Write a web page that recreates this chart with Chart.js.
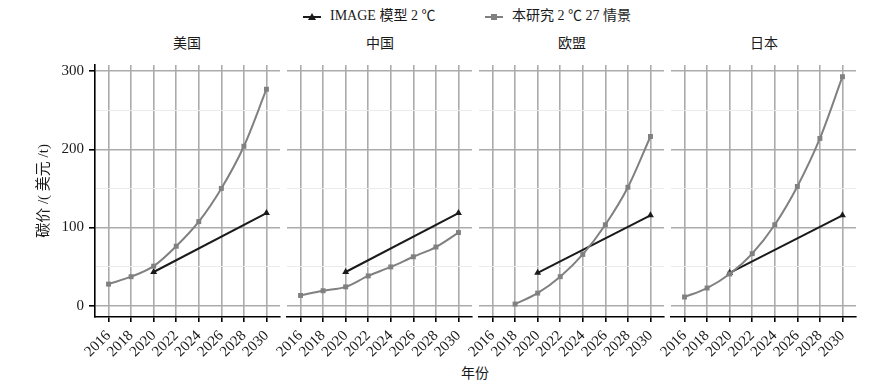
<!DOCTYPE html>
<html>
<head>
<meta charset="utf-8">
<script src="https://cdn.jsdelivr.net/npm/chart.js@4.4.1/dist/chart.umd.min.js"></script>
<style>
  html, body { margin: 0; padding: 0; background: #fff; }
  body { width: 892px; height: 386px; position: relative; overflow: hidden;
         font-family: "Liberation Serif", "Noto Sans CJK SC", serif; color: #1a1a1a; }
  canvas { position: absolute; }
  .txt { position: absolute; font-size: 14px; white-space: nowrap; line-height: 1; }
  .strip { transform: translateX(-50%); top: 37px; }
  .legend { position: absolute; top: 9px; font-size: 14px; line-height: 1; white-space: nowrap; }
  .legend svg { vertical-align: middle; margin-right: 8px; }
</style>
</head>
<body>

<div class="legend" style="left:302px">
  <svg width="20" height="10"><line x1="1" y1="5" x2="19" y2="5" stroke="#1a1a1a" stroke-width="2"/><polygon points="10,1 14,8 6,8" fill="#1a1a1a"/></svg>IMAGE 模型 2 ℃
</div>
<div class="legend" style="left:484px">
  <svg width="20" height="10"><line x1="1" y1="5" x2="19" y2="5" stroke="#808080" stroke-width="2"/><rect x="7" y="2" width="6" height="6" fill="#808080"/></svg>本研究 2 ℃ 27 情景
</div>

<div class="txt strip" style="left:187px">美国</div>
<div class="txt strip" style="left:380px">中国</div>
<div class="txt strip" style="left:572px">欧盟</div>
<div class="txt strip" style="left:764px">日本</div>
<div class="txt" style="left:461px; top:367px">年份</div>

<canvas id="c1" width="255" height="320" style="left:35px; top:50px"></canvas>
<canvas id="c2" width="225" height="320" style="left:257px; top:50px"></canvas>
<canvas id="c3" width="225" height="320" style="left:449px; top:50px"></canvas>
<canvas id="c4" width="225" height="320" style="left:641px; top:50px"></canvas>

<script>
// 年份與刻度
const years = [2016, 2018, 2020, 2022, 2024, 2026, 2028, 2030];
const yTicks = [0, 50, 100, 150, 200, 250, 300];

// 本研究 2℃ 27 情景
const usStudy = [27.5, 37, 50.5, 76, 107.5, 150, 204, 277];
const cnStudy = [13, 19, 24, 38, 49.5, 62.5, 75, 93.5];
const euStudy = [null, 2, 16, 37, 65.5, 103.5, 151.5, 216.5];
const jpStudy = [11, 22.5, 40.5, 66.5, 103.5, 152.5, 214, 293];

// IMAGE 模型 2℃
const imageYears = [2020, 2030];
const usImage = [43, 118.5];
const cnImage = [43, 118.5];
const euImage = [42, 115.5];
const jpImage = [42, 115.5];

const serif = '"Liberation Serif", "Noto Sans CJK SC", serif';

function toPoints(xs, ys) {
    return xs.map((x, i) => ({ x: x, y: ys[i] })).filter(p => p.y !== null);
}

function makePanel(id, study, image, first) {
    const ctx = document.getElementById(id).getContext('2d');
    return new Chart(ctx, {
        type: 'line',
        data: {
            datasets: [{
                label: '本研究 2 ℃ 27 情景',
                data: toPoints(years, study),
                borderColor: '#808080',
                backgroundColor: '#808080',
                borderWidth: 2,
                pointStyle: 'rect',
                pointRadius: 3.5,
                pointBorderWidth: 0,
                cubicInterpolationMode: 'monotone'
            }, {
                label: 'IMAGE 模型 2 ℃',
                data: toPoints(imageYears, image),
                borderColor: '#1a1a1a',
                backgroundColor: '#1a1a1a',
                borderWidth: 2,
                pointStyle: 'triangle',
                pointRadius: 4,
                pointBorderWidth: 0
            }]
        },
        options: {
            responsive: false,
            animation: false,
            layout: { padding: { top: 15, bottom: 0, left: first ? 0 : 30, right: 10 } },
            plugins: { legend: { display: false }, tooltip: { enabled: false } },
            scales: {
                x: {
                    type: 'linear',
                    min: 2014.8,
                    max: 2031.2,
                    afterBuildTicks: s => { s.ticks = years.map(v => ({ value: v })); },
                    afterFit: s => { s.height = 53; s.paddingLeft = 0; s.paddingRight = 0; },
                    ticks: {
                        autoSkip: false,
                        minRotation: 45,
                        maxRotation: 45,
                        padding: 5,
                        color: '#1a1a1a',
                        font: { family: serif, size: 15 },
                        callback: v => String(v)
                    },
                    grid: { color: '#ababab', lineWidth: 1.6, tickColor: '#000', tickLength: 5 },
                    border: { color: '#000', width: 1.6 }
                },
                y: {
                    min: -14.6,
                    max: 308,
                    afterBuildTicks: s => { s.ticks = yTicks.map(v => ({ value: v })); },
                    afterFit: s => { s.width = first ? 60 : 0; },
                    ticks: {
                        display: first,
                        padding: 5,
                        color: '#1a1a1a',
                        font: { family: serif, size: 15 },
                        callback: v => (v % 100 === 0 ? String(v) : '')
                    },
                    grid: {
                        drawTicks: first,
                        tickLength: 6,
                        color: c => (c.tick && c.tick.value % 100 === 0 ? '#ababab' : '#ebebeb'),
                        lineWidth: c => (c.tick && c.tick.value % 100 === 0 ? 1.6 : 1),
                        tickColor: c => (c.tick && c.tick.value % 100 === 0 ? '#000' : 'rgba(0,0,0,0)')
                    },
                    border: { display: first, color: '#000', width: 1.6 },
                    title: {
                        display: first,
                        text: '碳价 /( 美元 /t)',
                        color: '#1a1a1a',
                        padding: 0,
                        font: { family: serif, size: 15 }
                    }
                }
            }
        }
    });
}

makePanel('c1', usStudy, usImage, true);
makePanel('c2', cnStudy, cnImage, false);
makePanel('c3', euStudy, euImage, false);
makePanel('c4', jpStudy, jpImage, false);
</script>
</body>
</html>
